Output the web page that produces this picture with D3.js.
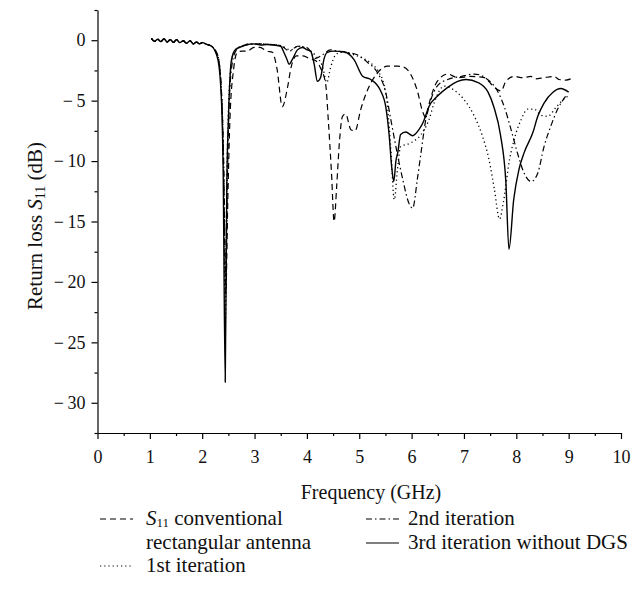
<!DOCTYPE html>
<html>
<head>
<meta charset="utf-8">
<script src="https://cdn.jsdelivr.net/npm/d3@7/dist/d3.min.js"></script>
<style>
  body { margin: 0; background: #fff; }
  svg text { font-family: "Liberation Serif", "DejaVu Serif", serif; fill: #111; }
</style>
</head>
<body>
<svg width="633" height="599" font-family="Liberation Serif, DejaVu Serif, serif"></svg>
<script>
// shared low band (1-2.2 GHz), all four curves sit on top of each other here
var lowFreq = [1.03, 1.09, 1.15, 1.21, 1.27, 1.33, 1.39, 1.45, 1.51, 1.57, 1.64, 1.70, 1.77, 1.83, 1.89, 1.95, 2.0, 2.09, 2.18];
var lowS11  = [0.15, -0.1, 0.08, -0.12, 0.12, -0.15, 0.05, -0.18, 0.05, -0.2, -0.05, -0.25, -0.05, -0.3, -0.15, -0.3, -0.2, -0.35, -0.5];

// S11 conventional rectangular antenna (dashed)
var convFreq = [2.3, 2.37, 2.41, 2.45, 2.49, 2.53, 2.6, 2.67, 2.76, 2.86, 2.99, 3.1, 3.24, 3.34, 3.43, 3.53, 3.63, 3.7, 3.8, 3.92, 4.04, 4.17, 4.26, 4.36, 4.41, 4.47, 4.52, 4.57, 4.62, 4.68, 4.74, 4.84, 4.92, 5.03, 5.16, 5.35, 5.54, 5.73, 5.83, 5.98, 6.11, 6.21, 6.27, 6.35, 6.49, 6.69, 6.88, 7.13, 7.39, 7.58, 7.71, 7.8, 7.96, 8.12, 8.28, 8.37, 8.53, 8.72, 8.82, 8.95, 9.04];
var convS11  = [-1.4, -4.5, -11, -21, -13, -6.5, -2.4, -1.0, -0.9, -0.9, -0.6, -0.6, -0.9, -1.0, -2.4, -5.5, -3.9, -2.2, -1.3, -1.3, -1.5, -1.7, -2.3, -3.7, -6.7, -11, -15.0, -12, -8.5, -6.3, -6.1, -7.4, -7.5, -5.7, -4.1, -2.7, -2.15, -2.15, -2.2, -2.8, -4.2, -5.9, -6.4, -5.0, -3.4, -2.8, -3.1, -3.0, -3.1, -3.9, -4.2, -3.4, -3.0, -3.1, -3.0, -3.2, -3.1, -3.0, -3.25, -3.3, -3.2];

// 1st iteration (dotted)
var it1Freq = [2.3, 2.37, 2.41, 2.44, 2.47, 2.5, 2.56, 2.63, 2.75, 2.9, 3.1, 3.3, 3.5, 3.69, 3.85, 4.0, 4.17, 4.3, 4.38, 4.45, 4.55, 4.65, 4.96, 5.22, 5.38, 5.48, 5.54, 5.6, 5.67, 5.73, 5.79, 5.98, 6.18, 6.33, 6.43, 6.62, 6.8, 7.0, 7.2, 7.35, 7.48, 7.58, 7.68, 7.75, 7.87, 7.96, 8.09, 8.22, 8.34, 8.47, 8.6, 8.75, 8.9, 9.0];
var it1S11  = [-1.3, -4.5, -11, -24, -12, -6, -1.8, -0.8, -0.5, -0.3, -0.3, -0.35, -0.45, -0.8, -0.5, -0.7, -1.3, -2.2, -3.5, -2.3, -1.2, -1.0, -1.3, -1.9, -2.7, -3.8, -5.5, -8.8, -13.2, -10.7, -8.8, -8.5, -7.8, -6.6, -5.2, -3.8, -4.1, -4.9, -6.3, -7.9, -9.9, -12.3, -14.8, -13.5, -9.9, -8.2, -6.6, -5.7, -5.7, -6.2, -6.3, -5.6, -4.9, -4.6];

// 2nd iteration (dash-dot)
var it2Freq = [2.3, 2.37, 2.41, 2.45, 2.48, 2.51, 2.57, 2.64, 2.75, 2.9, 3.1, 3.3, 3.5, 3.67, 3.82, 4.0, 4.17, 4.3, 4.45, 4.58, 4.96, 5.15, 5.35, 5.51, 5.6, 5.7, 5.83, 5.95, 6.02, 6.11, 6.18, 6.27, 6.37, 6.49, 6.69, 6.94, 7.2, 7.45, 7.64, 7.77, 7.9, 8.02, 8.15, 8.28, 8.41, 8.53, 8.66, 8.79, 8.95];
var it2S11  = [-1.3, -4.5, -10, -20, -12, -6, -2, -0.9, -0.5, -0.35, -0.3, -0.35, -0.45, -0.9, -0.5, -0.6, -1.5, -1.2, -0.8, -0.9, -1.2, -1.8, -2.7, -4.4, -6.5, -8.8, -11.5, -13.5, -13.9, -11.5, -9.3, -6.6, -4.9, -3.8, -3.25, -3.0, -2.8, -3.25, -4.2, -5.5, -7.4, -9.3, -11.0, -11.7, -11.0, -8.8, -7.1, -5.7, -4.6];

// 3rd iteration without DGS (solid)
var it3Freq = [2.3, 2.37, 2.4, 2.44, 2.47, 2.5, 2.56, 2.63, 2.77, 2.86, 2.98, 3.12, 3.24, 3.37, 3.5, 3.56, 3.62, 3.66, 3.72, 3.82, 3.91, 4.01, 4.07, 4.14, 4.2, 4.26, 4.33, 4.39, 4.52, 4.71, 4.9, 5.07, 5.22, 5.41, 5.51, 5.57, 5.62, 5.66, 5.7, 5.74, 5.79, 5.89, 6.02, 6.14, 6.23, 6.33, 6.5, 6.69, 6.88, 7.04, 7.27, 7.46, 7.57, 7.7, 7.8, 7.86, 7.95, 8.05, 8.15, 8.32, 8.41, 8.53, 8.7, 8.85, 9.0];
var it3S11  = [-1.6, -5.2, -10.7, -28.3, -12, -6.6, -1.6, -0.8, -0.5, -0.35, -0.3, -0.4, -0.35, -0.4, -0.5, -1.0, -1.6, -2.0, -1.6, -0.8, -0.6, -0.8, -0.9, -2.0, -3.4, -3.1, -1.5, -1.0, -0.9, -0.95, -1.6, -3.0, -3.25, -4.2, -5.6, -7.8, -10.5, -11.7, -10.0, -9.2, -7.8, -7.6, -7.9, -7.4, -6.7, -5.5, -4.6, -3.9, -3.4, -3.25, -3.5, -4.3, -5.5, -7.9, -11.7, -17.3, -13.2, -10.7, -9.3, -7.6, -6.3, -5.2, -4.3, -4.0, -4.3];

var xTicks = [0, 1, 2, 3, 4, 5, 6, 7, 8, 9, 10];
var yTicks = [-30, -25, -20, -15, -10, -5, 0];

var svg = d3.select("svg");
var x = d3.scaleLinear().domain([0, 10]).range([97.5, 621]);
var y = d3.scaleLinear().domain([-32.5, 2.5]).range([433, 10]);

function pts(f, v) {
  return lowFreq.map(function(d, i) { return [d, lowS11[i]]; })
    .concat(f.map(function(d, i) { return [d, v[i]]; }));
}

var series = [
  { name: "conv", data: pts(convFreq, convS11), dash: "6,4", w: 1.2 },
  { name: "it1", data: pts(it1Freq, it1S11), dash: "1.2,3", w: 1.3 },
  { name: "it2", data: pts(it2Freq, it2S11), dash: "6,3,1.5,3", w: 1.2 },
  { name: "it3", data: pts(it3Freq, it3S11), dash: null, w: 1.4 }
];

var line = d3.line()
  .x(function(d) { return x(d[0]); })
  .y(function(d) { return y(d[1]); })
  .curve(d3.curveMonotoneX);

series.forEach(function(s) {
  svg.append("path")
    .datum(s.data)
    .attr("fill", "none")
    .attr("stroke", "#000")
    .attr("stroke-width", s.w)
    .attr("stroke-dasharray", s.dash)
    .attr("stroke-linejoin", "round")
    .attr("d", line);
});

// axes: minor ticks first, then major with labels
svg.append("g")
  .attr("transform", "translate(0,433)")
  .call(d3.axisBottom(x).tickValues(d3.range(0.5, 10, 1)).tickSize(3).tickFormat(""))
  .call(function(g) { g.select(".domain").remove(); });
svg.append("g")
  .attr("transform", "translate(0,433)")
  .call(d3.axisBottom(x).tickValues(xTicks).tickSize(6).tickSizeOuter(0).tickPadding(11))
  .call(function(g) { g.selectAll("text").attr("font-size", 18); });

svg.append("g")
  .attr("transform", "translate(97.5,0)")
  .call(d3.axisLeft(y).tickValues(d3.range(-32.5, 2.6, 5)).tickSize(3).tickFormat(""))
  .call(function(g) { g.select(".domain").remove(); });
svg.append("g")
  .attr("transform", "translate(97.5,0)")
  .call(d3.axisLeft(y).tickValues(yTicks).tickSize(6).tickSizeOuter(0).tickPadding(6)
    .tickFormat(function(d) { return d < 0 ? "\u2212\u2009" + (-d) : d; }))
  .call(function(g) { g.selectAll("text").attr("font-size", 18); });

svg.selectAll("g").attr("font-family", null);
svg.selectAll(".domain, .tick line").attr("stroke", "#000").attr("stroke-width", 1.2);

// axis titles
svg.append("text")
  .attr("x", 371).attr("y", 499)
  .attr("text-anchor", "middle").attr("font-size", 20)
  .text("Frequency (GHz)");

var yl = svg.append("text")
  .attr("transform", "translate(42,226) rotate(-90)")
  .attr("text-anchor", "middle").attr("font-size", 21);
yl.append("tspan").text("Return loss ");
yl.append("tspan").attr("font-style", "italic").text("S");
yl.append("tspan").attr("font-size", 14).attr("dy", 3).text("11");
yl.append("tspan").attr("dy", -3).text(" (dB)");

// legend
var legendItems = [
  { dash: "6,4", x: 100, y: 525 },
  { dash: "1.2,3", x: 100, y: 572 },
  { dash: "6,3,1.5,3", x: 366, y: 525 },
  { dash: null, x: 366, y: 549 }
];
legendItems.forEach(function(d) {
  svg.append("line")
    .attr("x1", d.x).attr("x2", d.x + 33)
    .attr("y1", d.y - 6).attr("y2", d.y - 6)
    .attr("stroke", "#000").attr("stroke-width", 1.2)
    .attr("stroke-dasharray", d.dash);
});

var t1 = svg.append("text").attr("x", 146).attr("y", 525).attr("font-size", 21);
t1.append("tspan").attr("font-style", "italic").text("S");
t1.append("tspan").attr("font-size", 13).attr("dy", 2).text("11");
t1.append("tspan").attr("dy", -2).text(" conventional");
svg.append("text").attr("x", 146).attr("y", 549).attr("font-size", 21).text("rectangular antenna");
svg.append("text").attr("x", 146).attr("y", 572).attr("font-size", 21).text("1st iteration");
svg.append("text").attr("x", 408).attr("y", 525).attr("font-size", 21).text("2nd iteration");
svg.append("text").attr("x", 408).attr("y", 549).attr("font-size", 21).text("3rd iteration without DGS");
</script>
</body>
</html>
